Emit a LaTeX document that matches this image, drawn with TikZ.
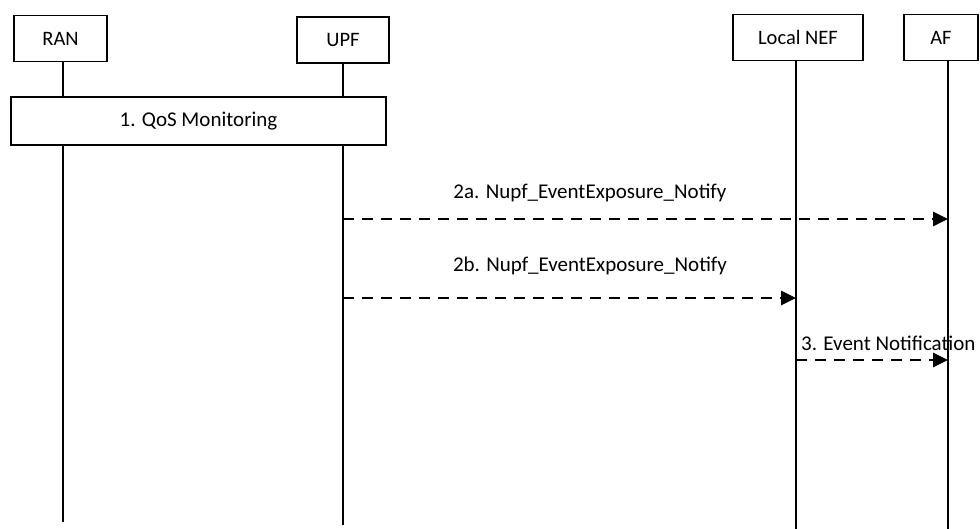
\documentclass[tikz,border=0pt]{standalone}
\usepackage{fontspec}
\setmainfont{Carlito}
\usetikzlibrary{arrows.meta}
\begin{document}
\begin{tikzpicture}[x=1pt,y=-1pt,
  ent/.style={draw,line width=1.2pt,minimum height=46pt,inner sep=0pt,font=\fontsize{20.5}{24}\selectfont},
  life/.style={line width=1.2pt},
  msg/.style={line width=2.8pt,dash pattern=on 11pt off 8pt,-{Triangle[length=15pt,width=14pt]}},
  lbl/.style={font=\fontsize{21}{24}\selectfont,inner sep=0pt}]
\useasboundingbox (0,0) rectangle (980,529);
\node[ent,minimum width=93pt] (ran) at (60.5,38.5) {RAN};
\node[ent,minimum width=92pt] (upf) at (343,40) {UPF};
\node[ent,minimum width=130pt] (nef) at (798,37.5) {Local NEF};
\node[ent,minimum width=74pt] (af) at (941,37.5) {AF};
\coordinate (ranb) at (63,522);
\coordinate (upfb) at (343,525);
\coordinate (nefb) at (796,529);
\coordinate (afb) at (948,529);
\draw[life] (63,61) -- (ranb);
\draw[life] (343,63) -- (upfb);
\draw[life] (796,61) -- (nefb);
\draw[life] (948,61) -- (afb);
\node[draw,line width=1.2pt,fill=white,minimum width=375pt,minimum height=48pt,inner sep=0pt,font=\fontsize{21}{24}\selectfont] (qos) at (198.5,121) {1. QoS Monitoring};
\coordinate (a1) at (343,219);
\coordinate (a2) at (948,219);
\coordinate (b1) at (343,298);
\coordinate (b2) at (796,298);
\coordinate (c1) at (796,360);
\coordinate (c2) at (948,360);
\draw[msg] (a1) -- (a2);
\draw[msg] (b1) -- (b2);
\draw[msg] (c1) -- (c2);
\node[lbl] (la) at (590,193) {2a. Nupf\_EventExposure\_Notify};
\node[lbl] (lb) at (590,266) {2b. Nupf\_EventExposure\_Notify};
\node[lbl,anchor=west] (lc) at (801,343) {3. Event Notification};
\end{tikzpicture}
\end{document}
